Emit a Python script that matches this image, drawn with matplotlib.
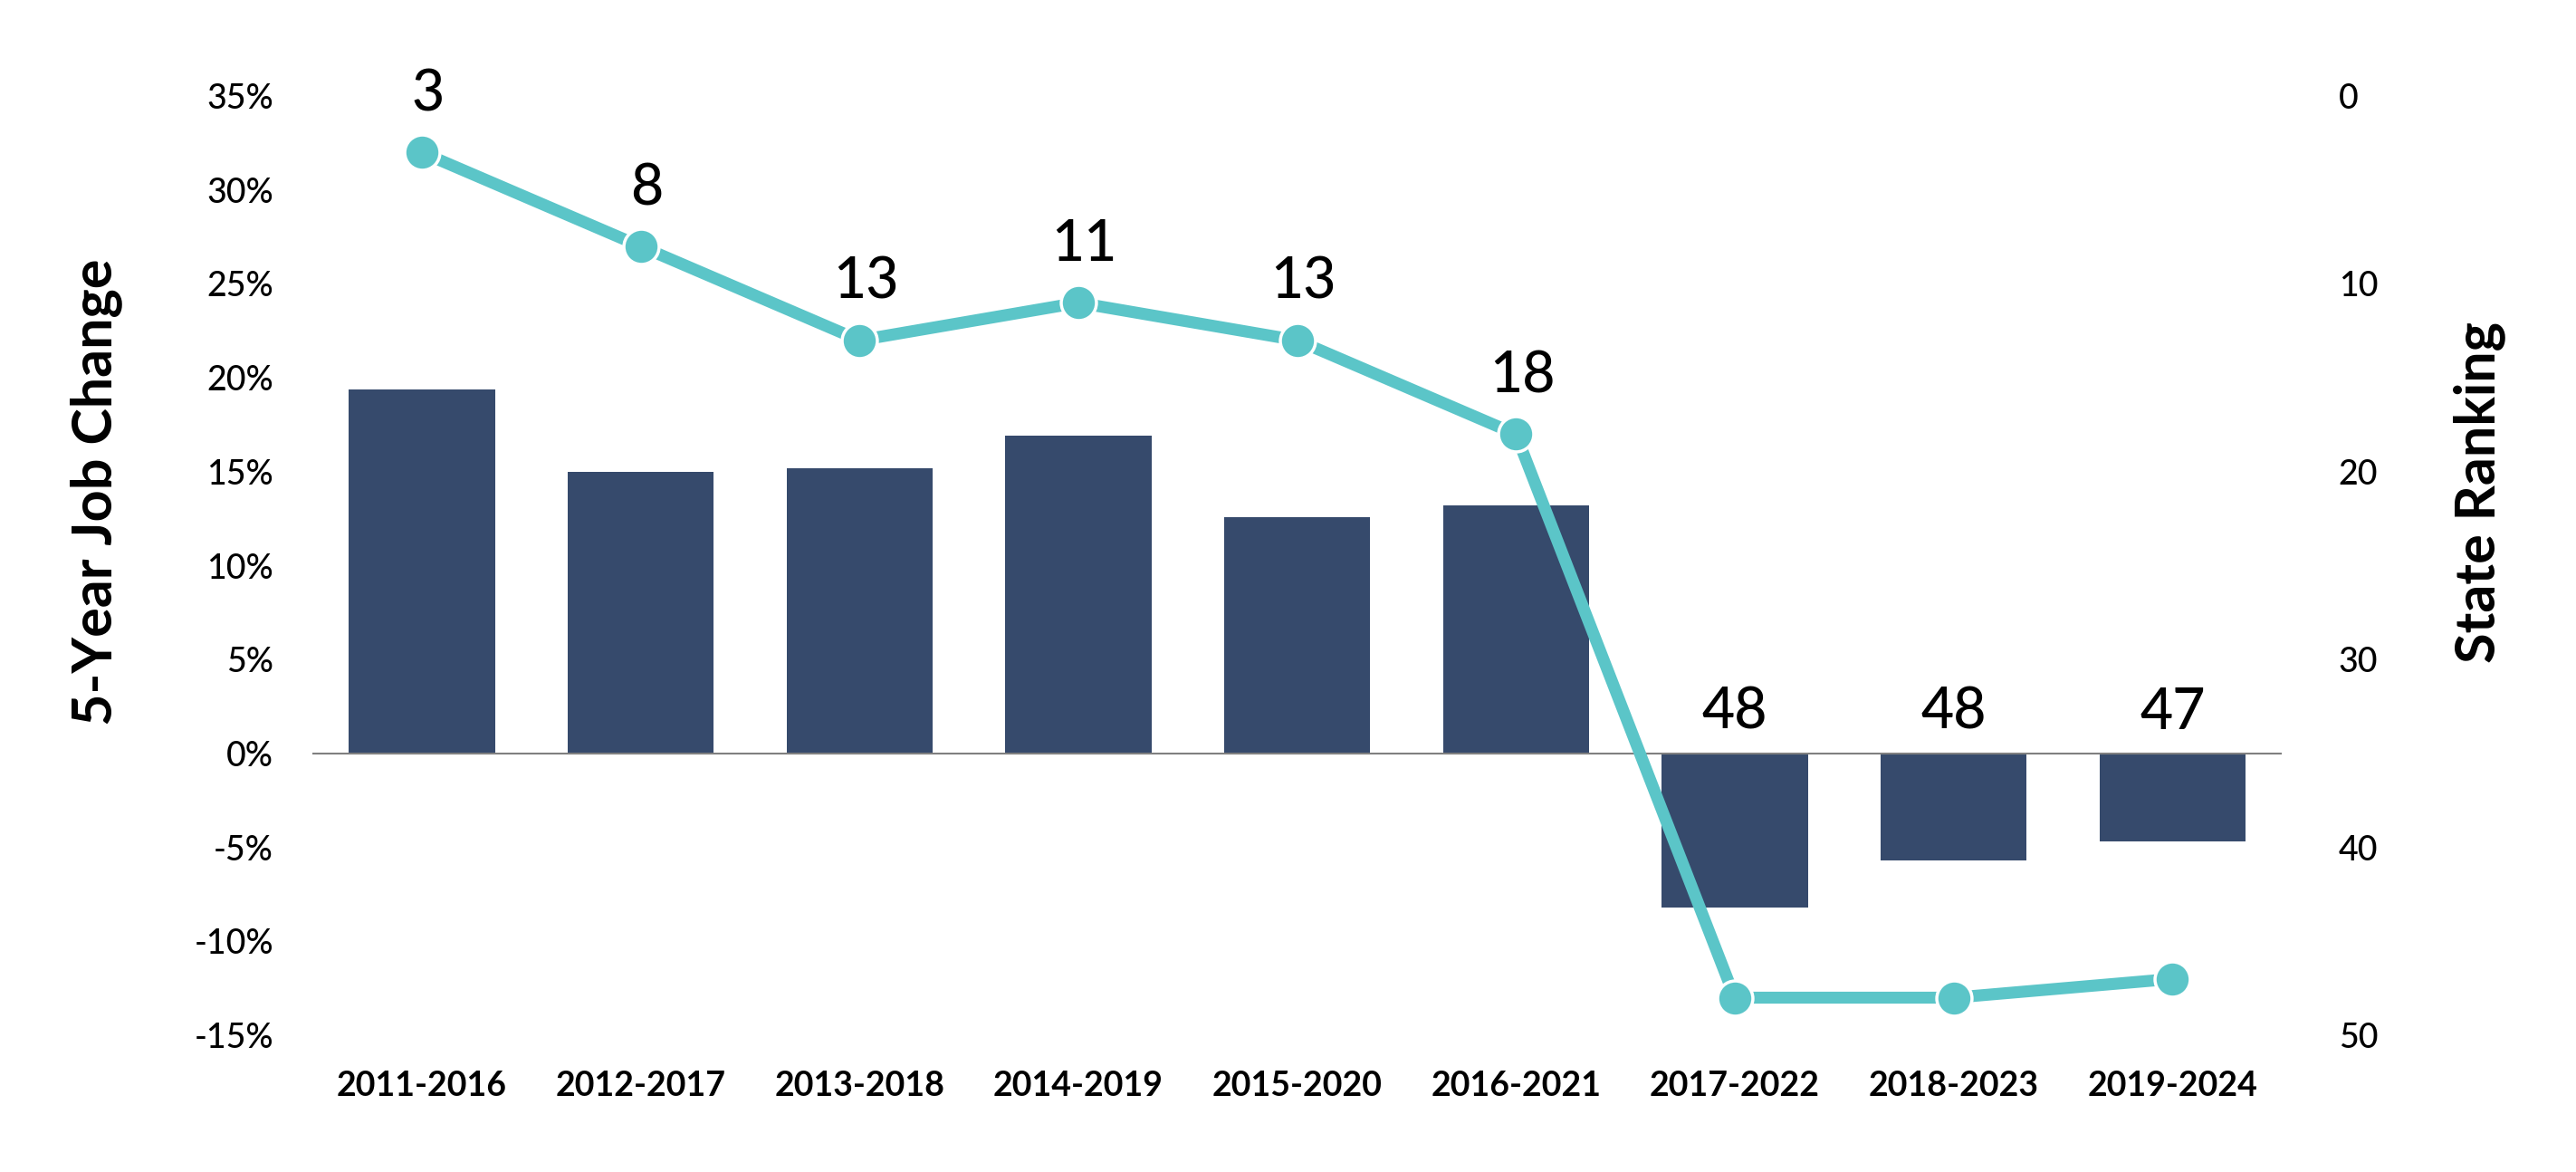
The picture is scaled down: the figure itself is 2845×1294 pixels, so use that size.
import numpy as np
import matplotlib
matplotlib.use("Agg")
import matplotlib.pyplot as plt
from matplotlib.ticker import FuncFormatter

plt.rcParams['font.family'] = ['Lato', 'DejaVu Sans']
plt.rcParams['font.weight'] = 'medium'

# данные
periods = ['2011-2016', '2012-2017', '2013-2018', '2014-2019', '2015-2020',
           '2016-2021', '2017-2022', '2018-2023', '2019-2024']
job_change = [0.194, 0.150, 0.152, 0.169, 0.126, 0.132, -0.082, -0.057, -0.047]
state_rank = [3, 8, 13, 11, 13, 18, 48, 48, 47]

BAR_COLOR = '#364A6C'
LINE_COLOR = '#5BC5C8'

fig = plt.figure(figsize=(28.45, 12.94), dpi=100)
ax = fig.add_axes([0.1213, 0.1167, 0.7645, 0.8013])
x = np.arange(len(periods))

ax.bar(x, job_change, width=0.667, color=BAR_COLOR, zorder=2)
ax.axhline(0, color='#808080', linewidth=1.5, zorder=3)
ax.set_xlim(-0.5, len(periods) - 0.5)
ax.set_ylim(-0.15, 0.35)
ax.set_yticks(np.arange(-0.15, 0.351, 0.05))
ax.yaxis.set_major_formatter(FuncFormatter(lambda v, p: f'{v*100:.0f}%'))
ax.set_xticks(x)
ax.set_xticklabels(periods, fontweight='bold')
ax.tick_params(axis='y', length=0, labelsize=27, pad=31)
ax.tick_params(axis='x', length=0, labelsize=27, pad=28)
for s in ax.spines.values():
    s.set_visible(False)

ax2 = ax.twinx()
ax2.plot(x, state_rank, color=LINE_COLOR, linewidth=9.5, marker='o',
         markersize=28, markerfacecolor=LINE_COLOR, markeredgecolor='white',
         markeredgewidth=2.5, zorder=4)
ax2.set_ylim(50, 0)
ax2.set_yticks(np.arange(0, 51, 10))
ax2.tick_params(axis='y', length=0, labelsize=27, pad=45)
for s in ax2.spines.values():
    s.set_visible(False)

# подписи рангов
for i, r in enumerate(state_rank):
    if job_change[i] < 0:
        # у отрицательных столбцов подпись стоит над нулевой линией
        ax.text(x[i], 0.013, str(r), ha='center', va='baseline', fontsize=45,
                color='black', zorder=5)
    else:
        ax2.annotate(str(r), (x[i], r), xytext=(5, 33), textcoords='offset points',
                     ha='center', va='baseline', fontsize=45, color='black')

fig.text(0.0373, 0.58, '5-Year Job Change', rotation=90, ha='center', va='center',
         fontsize=44, fontweight='bold')
fig.text(0.9624, 0.58, 'State Ranking', rotation=90, ha='center', va='center',
         fontsize=44, fontweight='bold')

fig.savefig('out.png', dpi=100, facecolor='white')
